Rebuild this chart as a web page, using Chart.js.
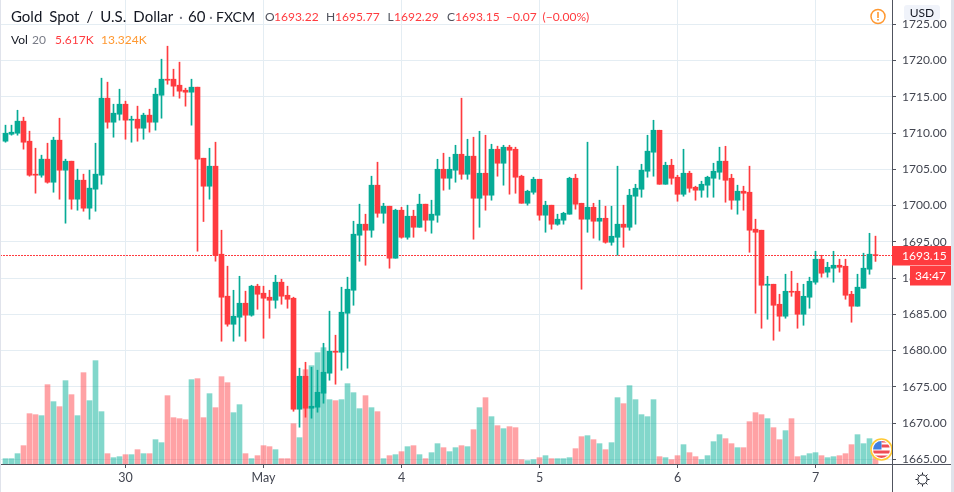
<!DOCTYPE html>
<html><head><meta charset="utf-8">
<script src="https://cdn.jsdelivr.net/npm/chart.js@4"></script>
<style>html,body{margin:0;padding:0;background:#fff;overflow:hidden}canvas{display:block}</style>
</head><body><canvas id="c" width="954" height="492"></canvas>
<script>
const opens=[1708.87,1709.83,1709.97,1711.63,1708.87,1704.32,1704.18,1706.39,1703.21,1709.01,1704.87,1706.11,1700.87,1703.49,1699.63,1702.25,1704.18,1714.80,1711.49,1712.59,1713.97,1711.77,1711.90,1710.66,1712.46,1711.49,1715.21,1717.42,1717.42,1716.59,1715.90,1715.63,1716.32,1706.52,1702.66,1705.42,1693.28,1687.49,
1683.62,1684.59,1686.52,1684.87,1688.87,1687.90,1687.35,1686.93,1689.42,1687.62,1687.21,1671.90,1676.45,1672.04,1672.18,1674.11,1676.87,1679.90,1679.76,1685.14,1688.31,1695.90,1697.42,1696.59,1702.80,1698.93,1699.90,1692.73,1699.35,1695.62,1698.52,1697.00,1700.18,1697.97,1698.66,1705.00,1703.76,
1704.87,1707.07,1704.31,1706.80,1701.00,1704.45,1701.42,1707.76,1705.83,1708.04,1707.76,1704.04,1700.31,1701.83,1703.62,1698.66,1700.04,1697.42,1697.97,1698.80,1703.76,1700.31,1698.11,1699.76,1697.83,1698.24,1694.93,1695.62,1697.42,1697.00,1701.28,1702.24,1704.73,1707.35,1710.38,
1702.93,1705.55,1703.90,1701.55,1704.45,1702.52,1702.11,1702.80,1703.76,1704.59,1706.11,1703.76,1700.73,1701.97,1701.83,1696.73,1696.59,1689.00,1689.14,1686.38,1684.73,1688.17,1688.17,1685.00,1687.35,1689.42,1692.59,1690.80,1691.35,1691.76,1691.62,1687.76,1686.11,1688.59,1691.21,1693.22];
const highs=[1711.08,1711.08,1713.14,1712.18,1710.25,1707.90,1706.94,1708.59,1709.42,1712.04,1706.39,1706.11,1705.01,1704.32,1704.87,1708.59,1717.56,1717.01,1713.97,1716.04,1714.39,1712.32,1713.70,1712.73,1713.28,1716.18,1720.18,1721.97,1718.80,1719.77,1716.18,1717.42,1716.32,1706.52,1707.90,1708.73,1696.59,1691.63,
1688.31,1690.24,1688.18,1689.00,1689.14,1688.87,1688.31,1690.38,1689.83,1688.87,1687.35,1677.56,1678.38,1677.69,1677.28,1681.00,1685.42,1682.11,1688.73,1690.11,1697.83,1700.18,1698.80,1704.04,1705.97,1700.31,1699.90,1699.49,1699.76,1700.04,1699.35,1701.56,1700.18,1700.73,1706.38,1707.21,1706.66,
1708.31,1714.80,1709.14,1709.42,1710.24,1709.69,1708.45,1708.18,1708.31,1708.31,1708.04,1704.18,1702.11,1703.90,1703.62,1700.59,1700.04,1698.80,1699.07,1703.90,1704.31,1700.31,1708.73,1700.31,1700.73,1699.90,1699.90,1705.42,1700.04,1702.24,1702.93,1705.69,1709.69,1711.76,1710.38,
1705.97,1706.38,1704.17,1707.76,1704.73,1702.66,1703.35,1704.04,1705.83,1708.04,1708.17,1704.31,1702.80,1702.66,1705.42,1698.11,1696.59,1690.24,1689.14,1687.76,1690.52,1690.93,1689.28,1689.14,1690.11,1693.69,1693.14,1692.17,1693.69,1692.59,1692.59,1688.17,1690.52,1693.42,1696.17,1695.77];
const lows=[1708.73,1709.70,1709.70,1707.77,1704.04,1701.70,1703.90,1703.08,1701.83,1700.87,1697.56,1699.49,1699.35,1699.21,1698.11,1699.21,1702.94,1710.66,1709.42,1711.77,1709.14,1708.73,1708.87,1709.14,1710.11,1710.39,1712.04,1716.73,1715.08,1714.80,1713.70,1711.08,1693.70,1697.79,1700.87,1692.32,1681.28,1683.35,
1681.28,1681.97,1681.28,1684.73,1685.69,1681.69,1684.45,1685.83,1686.38,1685.83,1671.62,1669.42,1670.80,1670.66,1671.49,1672.73,1675.90,1675.35,1677.28,1677.56,1686.24,1692.31,1691.76,1695.62,1698.38,1697.56,1691.35,1692.73,1695.49,1695.35,1695.62,1697.00,1696.45,1696.18,1697.69,1702.11,1702.24,
1703.21,1703.62,1703.62,1695.35,1697.00,1699.35,1700.73,1704.04,1702.80,1701.56,1701.69,1700.31,1700.04,1701.56,1697.97,1696.31,1696.73,1697.28,1697.42,1698.80,1699.49,1688.45,1696.31,1695.49,1695.21,1694.80,1694.52,1693.14,1694.24,1696.59,1697.42,1701.14,1703.90,1704.04,1702.93,
1702.93,1702.93,1700.59,1701.28,1701.83,1700.73,1701.14,1701.14,1701.14,1703.62,1700.45,1699.48,1698.80,1699.35,1693.55,1685.14,1683.07,1684.31,1681.42,1682.66,1684.45,1687.48,1683.07,1683.48,1685.83,1689.14,1690.11,1690.11,1689.42,1690.80,1687.07,1683.90,1686.11,1688.59,1690.52,1692.29];
const closes=[1709.97,1710.11,1711.63,1708.73,1704.18,1704.18,1706.39,1703.21,1709.01,1704.87,1706.11,1700.87,1703.49,1699.63,1702.39,1704.32,1714.80,1711.49,1712.73,1713.97,1711.77,1711.90,1710.66,1712.46,1711.49,1715.35,1717.42,1717.28,1716.46,1715.77,1715.63,1716.32,1706.39,1702.66,1705.42,1693.14,1687.35,1683.63,
1684.73,1686.52,1684.87,1688.87,1687.76,1687.21,1686.93,1689.42,1687.49,1687.07,1671.90,1676.45,1672.04,1672.31,1674.24,1677.00,1679.90,1679.76,1685.28,1688.45,1696.04,1697.42,1696.59,1702.80,1698.93,1699.90,1692.73,1699.35,1695.62,1698.52,1697.00,1700.18,1697.97,1698.80,1705.00,1703.76,1705.00,
1707.07,1704.31,1706.80,1701.00,1704.45,1701.42,1707.76,1705.83,1708.04,1707.62,1703.90,1700.31,1701.97,1703.62,1698.66,1700.04,1697.42,1698.11,1698.93,1703.76,1700.18,1698.11,1699.76,1697.83,1698.24,1694.93,1695.76,1697.42,1697.00,1701.42,1702.38,1704.87,1707.49,1710.38,1702.93,
1705.55,1703.76,1701.55,1704.45,1702.38,1702.11,1702.93,1703.90,1704.73,1706.11,1703.48,1700.73,1701.97,1701.69,1696.59,1696.31,1689.00,1689.14,1686.24,1684.73,1688.17,1688.04,1685.00,1687.48,1689.55,1692.59,1690.66,1691.48,1691.76,1691.48,1687.62,1686.11,1688.73,1691.35,1693.28,1693.15];
const volumes=[1.6,1.6,3.1,5.5,15.1,14.8,14.5,23.8,18.7,17.2,25.0,20.8,14.5,27.4,19.0,31.0,15.7,3.1,1.9,2.2,2.8,2.8,4.3,3.1,3.1,7.3,6.4,20.5,13.9,13.6,13.3,25.3,25.6,13.9,21.1,16.9,26.2,24.4,15.4,17.8,3.1,1.6,2.5,5.5,5.2,4.3,1.6,1.6,12.1,7.9,
28.3,29.5,33.4,34.9,19.3,19.0,19.3,24.1,21.4,16.6,20.5,16.9,15.7,1.6,2.5,2.8,3.7,5.2,5.5,2.8,1.6,3.4,6.1,4.9,3.7,4.9,5.5,5.2,10.3,16.9,19.9,14.2,11.5,10.6,11.2,10.9,1.3,1.0,1.3,1.9,2.5,1.6,1.6,1.6,1.9,4.6,8.2,8.5,
7.3,6.1,4.3,6.4,19.9,18.1,23.5,19.3,14.8,14.2,19.3,2.2,1.9,1.3,2.5,5.8,3.4,2.2,1.3,2.5,6.7,8.8,7.6,6.1,4.9,4.9,12.7,15.4,14.8,13.6,10.9,7.3,10.0,13.6,2.2,2.5,3.1,3.4,2.5,1.9,2.2,2.5,3.1,5.8,8.8,6.1,7.6,5.617];
const dayTickIndex=[20,43,66,89,112,135];
const dayTickLabels=['30','May','4','5','6','7'];
const priceTicks=[1665,1670,1675,1680,1685,1690,1695,1700,1705,1710,1715,1720,1725];
const lastPrice=1693.15;
const countdown='34:47';

const UP='#06ab96',DOWN='#ff3b3f',UPV='rgba(5,175,151,.5)',DOWNV='rgba(255,70,75,.5)',GRID='#e4edf3',AXIS='#50535e',TXT='#434651';
const FONT='Lato,"Liberation Sans",Arial,sans-serif';
const isUp=closes.map((c,i)=>c>=opens[i]);
const PX_RIGHT=892,PX_BOTTOM=464;
const noPad=s=>{s.paddingTop=0;s.paddingBottom=0;s.paddingLeft=0;s.paddingRight=0;};

const lastLine={id:'lastLine',beforeDatasetsDraw(ch){
  const g=ch.ctx,py=Math.floor(ch.scales.y.getPixelForValue(lastPrice))+.5;
  g.save();g.strokeStyle=DOWN;g.lineWidth=1;g.setLineDash([2,1]);
  g.beginPath();g.moveTo(ch.chartArea.left,py);g.lineTo(ch.chartArea.right,py);g.stroke();g.restore();
}};
const hud={id:'hud',afterDraw(ch){
  const g=ch.ctx,y=ch.scales.y,R=ch.chartArea.right,B=ch.chartArea.bottom;
  g.save();
  g.fillStyle='#e0e3eb';g.fillRect(0,0,1,492);g.fillRect(951,0,3,492);
  g.strokeStyle=AXIS;g.lineWidth=1;
  g.beginPath();g.moveTo(R+.5,B);g.lineTo(R+.5,492);g.moveTo(R,B+.5);g.lineTo(951,B+.5);g.stroke();
  const fx=881.5,fy=449.5;
  g.save();g.beginPath();g.rect(0,0,R,492);g.clip();
  g.beginPath();g.arc(fx,fy,11,0,Math.PI*2);g.fillStyle='#fff';g.fill();
  g.save();g.beginPath();g.arc(fx,fy,8.5,0,Math.PI*2);g.clip();
  g.fillStyle='#fff';g.fillRect(fx-10,fy-10,20,20);
  g.fillStyle='#ef4d55';g.fillRect(fx-10,fy+1,20,3);g.fillRect(fx-10,fy+6,20,3);g.fillRect(fx,fy-5,10,3);g.fillRect(fx,fy-10,10,3);
  g.fillStyle='#3f7fe0';g.fillRect(fx-10,fy-10,10,10);
  g.restore();
  g.strokeStyle='#ffc933';g.lineWidth=1.6;g.beginPath();g.arc(fx,fy,10.5,0,Math.PI*2);g.stroke();
  g.restore();
  const py=Math.floor(y.getPixelForValue(lastPrice))+.5;
  g.fillStyle=DOWN;g.fillRect(R,py-9.5,59,19.5);g.fillRect(910,py+10.5,41,19.5);
  g.fillStyle='#fff';g.font='12px '+FONT;g.textBaseline='middle';g.textAlign='left';
  g.fillText(lastPrice.toFixed(2),902,py+.5);
  g.fillText(countdown,915,py+20.5);
  g.fillStyle='#f0f3fa';g.beginPath();g.roundRect(904,5,36,15,3);g.fill();
  g.fillStyle='#131722';g.font='12px '+FONT;g.textAlign='center';g.fillText('USD',922,13);
  g.strokeStyle='#ff9830';g.lineWidth=1.5;g.beginPath();g.arc(878,16.5,7,0,Math.PI*2);g.stroke();
  g.fillStyle='#ff9830';g.fillRect(877.2,12,1.6,6);g.fillRect(877.2,19,1.6,1.6);
  g.strokeStyle='#131722';g.lineWidth=1;g.beginPath();g.arc(922.5,479.5,4.6,0,Math.PI*2);g.stroke();
  for(let a=0;a<8;a++){const t=a*Math.PI/4;g.beginPath();g.moveTo(922.5+Math.cos(t)*5,479.5+Math.sin(t)*5);g.lineTo(922.5+Math.cos(t)*7,479.5+Math.sin(t)*7);g.stroke();}
  g.textAlign='left';g.textBaseline='alphabetic';
  const put=(s,x,yy,c,f)=>{g.fillStyle=c;g.font=f;g.fillText(s,x,yy);};
  const F1='15px '+FONT,F2='12px '+FONT;
  g.wordSpacing='3.2px';
  put('Gold Spot / U.S. Dollar',11,22,'#131722',F1);
  g.wordSpacing='0px';
  put('·',179,22,'#787b86',F1);put('60',188,22,'#131722',F1);
  put('·',209,22,'#787b86',F1);put('FXCM',216,22,'#131722','14px '+FONT);
  [['O',265,'1693.22',274],['H',326,'1695.77',335],['L',387.5,'1692.29',394],['C',447,'1693.15',455]].forEach(r=>{
    put(r[0],r[1],21,'#50535e',F2);put(r[2],r[3],21,DOWN,F2);});
  put('\u22120.07',506,21,DOWN,F2);put('(\u22120.00%)',542.5,21,DOWN,F2);
  put('Vol',11,44,'#131722',F2);put('20',32,44,'#787b86',F2);
  put('5.617K',55,44,DOWN,F2);put('13.324K',101,44,'#ff9830',F2);
  g.restore();
}};

const xMin=-5.5/6,xMax=(PX_RIGHT-5.5)/6;
new Chart(document.getElementById('c'),{
  data:{datasets:[
    {type:'bar',label:'Volume',yAxisID:'v',grouped:false,order:5,barThickness:5,
     data:volumes.map((v,i)=>({x:i,y:v})),backgroundColor:isUp.map(u=>u?UPV:DOWNV)},
    {type:'bar',label:'Wick',yAxisID:'y',grouped:false,order:3,barThickness:1,
     data:highs.map((h,i)=>({x:i,y:[lows[i],h]})),backgroundColor:isUp.map(u=>u?UP:DOWN)},
    {type:'bar',label:'Body',yAxisID:'y',grouped:false,order:2,barThickness:5,
     data:opens.map((o,i)=>({x:i,y:[o,closes[i]]})),backgroundColor:isUp.map(u=>u?UP:DOWN)}
  ]},
  options:{responsive:false,animation:false,devicePixelRatio:1,
    layout:{padding:0},
    plugins:{legend:{display:false},tooltip:{enabled:false}},
    events:[],
    scales:{
      x:{type:'linear',position:'bottom',min:xMin,max:xMax,offset:false,
        afterBuildTicks(s){s.ticks=dayTickIndex.map(v=>({value:v}));},
        afterFit(s){s.height=492-PX_BOTTOM;noPad(s);},
        grid:{offset:false,color:GRID,lineWidth:1,tickLength:4,tickColor:AXIS},
        border:{color:AXIS,width:1},
        ticks:{autoSkip:false,maxRotation:0,padding:2,color:TXT,font:{family:FONT,size:12.5},
          callback(v){const k=dayTickIndex.indexOf(v);return k<0?'':dayTickLabels[k];}}},
      y:{type:'linear',position:'right',min:1664.345,max:1728.345,
        afterBuildTicks(s){s.ticks=priceTicks.map(v=>({value:v}));},
        afterFit(s){s.width=954-PX_RIGHT;noPad(s);},
        grid:{color:GRID,lineWidth:1,tickLength:4,tickColor:AXIS},
        border:{color:AXIS,width:1},
        ticks:{padding:6,color:TXT,font:{family:FONT,size:12},callback:v=>Number(v).toFixed(2)}},
      v:{type:'linear',display:false,min:0,max:139.2,afterFit:noPad}
    }},
  plugins:[lastLine,hud]
});
</script></body></html>
